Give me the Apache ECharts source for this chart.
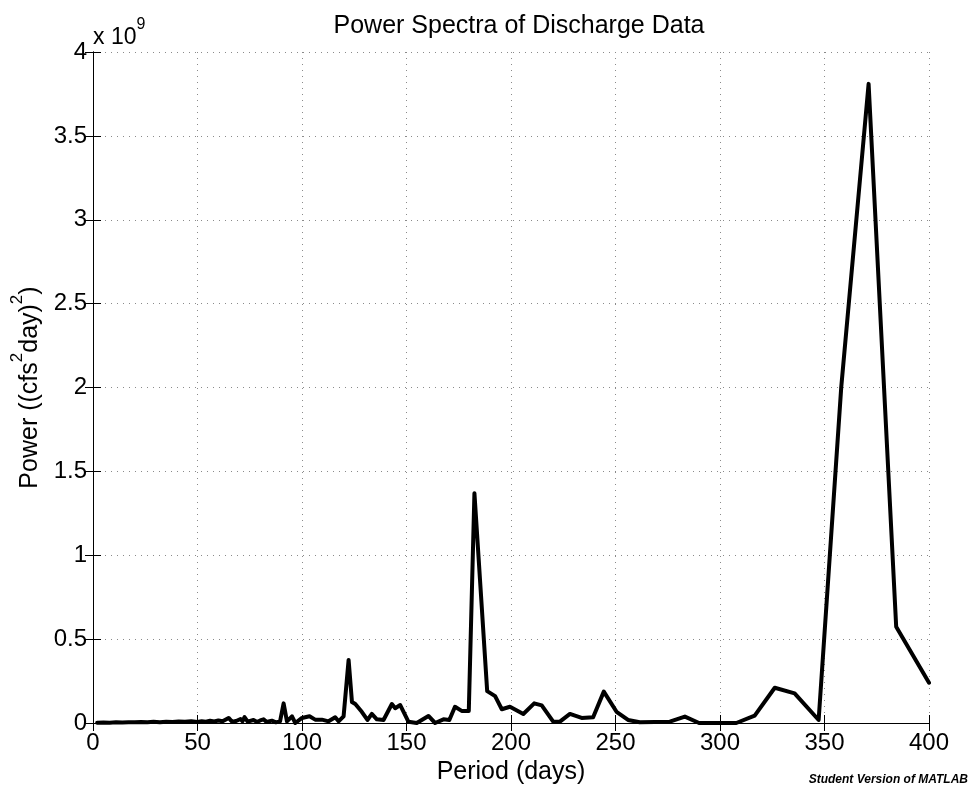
<!DOCTYPE html>
<html>
<head>
<meta charset="utf-8">
<script src="https://cdn.jsdelivr.net/npm/echarts@6/dist/echarts.min.js"></script>
<style>
html,body{margin:0;padding:0;background:#fff;}
#chart{width:971px;height:792px;}
</style>
</head>
<body>
<div id="chart"></div>
<script>
// Period (days)
var periods = [
  2, 5, 8, 11, 14, 17, 20, 23, 26, 29, 32, 35, 38, 41, 44, 47, 50, 52, 54, 56, 58, 60, 62,
  64.9, 66.5, 68.5, 70.6, 71.5, 72.5, 74, 76.8, 78.5, 80, 81.6, 83, 85.6, 87.5, 89.5,
  91.2, 92.8, 95.2, 96.8, 100, 103.6, 106.3, 109.5, 112.7, 115.9, 117.5, 119.9,
  122.3, 123.9, 125.5, 128.6, 131.3, 133.4, 135.8, 139, 143, 144.6, 147, 150.9, 154.9,
  160.5, 163.7, 167.7, 170.5, 173.2, 176.4, 179.8, 182.5, 188.6, 192.4, 195.6, 199.5,
  205.9, 211.1, 214.7, 220.2, 223.4, 228.2, 233.8, 239.3, 244.4, 250.5, 256, 261.6,
  276, 283.2, 290, 307.8, 316.6, 326.2, 335.7, 347.2, 358, 371.1, 384.3, 400
];
// Power, in units of 1e9 (cfs^2 day)^2
var power = [
  0.002, 0.003, 0.002, 0.004, 0.003, 0.005, 0.004, 0.006, 0.005, 0.007, 0.005, 0.008, 0.006, 0.009, 0.007, 0.010, 0.006, 0.011, 0.008, 0.013, 0.009, 0.015, 0.010,
  0.030, 0.008, 0.012, 0.024, 0.010, 0.035, 0.008, 0.018, 0.006, 0.015, 0.022, 0.006, 0.014, 0.004, 0.010,
  0.117, 0.010, 0.040, 0.000, 0.030, 0.040, 0.020, 0.020, 0.010, 0.034, 0.010, 0.040,
  0.376, 0.125, 0.113, 0.067, 0.018, 0.054, 0.022, 0.018, 0.113, 0.088, 0.107, 0.008, 0.000,
  0.042, 0.000, 0.022, 0.018, 0.097, 0.072, 0.072, 1.370, 0.190, 0.160, 0.082, 0.097,
  0.054, 0.117, 0.105, 0.008, 0.008, 0.054, 0.030, 0.034, 0.187, 0.067, 0.018, 0.004,
  0.008, 0.038, 0.000, 0.000, 0.044, 0.210, 0.177, 0.018, 2.000, 3.810, 0.574, 0.240
];
var xTicks = [0, 50, 100, 150, 200, 250, 300, 350, 400];
var yTicks = [0, 0.5, 1, 1.5, 2, 2.5, 3, 3.5, 4];

var FONT = '"Liberation Sans", Arial, Helvetica, sans-serif';
var chart = echarts.init(document.getElementById('chart'), null, {renderer: 'canvas'});
var seriesData = periods.map(function (p, i) { return [p, power[i]]; });

var splitStyle = {show: true, lineStyle: {color: '#8a8a8a', width: 1, type: [1, 5]}};
var tickStyle = {show: true, inside: true, length: 8, lineStyle: {color: '#000', width: 1}};

chart.setOption({
  animation: false,
  backgroundColor: '#fff',
  textStyle: {fontFamily: FONT},
  title: {
    text: 'Power Spectra of Discharge Data',
    left: 514, top: 9, textAlign: 'center',
    textStyle: {fontFamily: FONT, fontSize: 25, fontWeight: 'normal', color: '#000'}
  },
  grid: {left: 93, top: 52, width: 836, height: 671, containLabel: false},
  xAxis: [{
    type: 'value', min: xTicks[0], max: xTicks[xTicks.length - 1], interval: 50,
    position: 'bottom',
    name: 'Period (days)', nameLocation: 'middle', nameGap: 33,
    nameTextStyle: {fontFamily: FONT, fontSize: 25, color: '#000'},
    axisLine: {show: true, lineStyle: {color: '#000', width: 1}},
    axisTick: tickStyle,
    axisLabel: {fontFamily: FONT, fontSize: 24, color: '#000', margin: 8},
    splitLine: splitStyle
  }, {
    type: 'value', min: xTicks[0], max: xTicks[xTicks.length - 1], interval: 50,
    position: 'top',
    axisLine: {show: true, lineStyle: {color: '#000', width: 1}},
    axisTick: tickStyle, axisLabel: {show: false}, splitLine: {show: false}
  }],
  yAxis: [{
    type: 'value', min: yTicks[0], max: yTicks[yTicks.length - 1], interval: 0.5,
    position: 'left',
    name: '{a|Power ((cfs}{s|2}{a|day)}{s|2}{a|)}', nameLocation: 'middle', nameGap: 48,
    nameRotate: 90,
    nameTextStyle: {
      fontFamily: FONT, color: '#000',
      rich: {
        a: {fontFamily: FONT, fontSize: 25, color: '#000', lineHeight: 34, verticalAlign: 'bottom'},
        s: {fontFamily: FONT, fontSize: 17, color: '#000', lineHeight: 34, verticalAlign: 'top'}
      }
    },
    axisLine: {show: true, lineStyle: {color: '#000', width: 1}},
    axisTick: tickStyle,
    axisLabel: {fontFamily: FONT, fontSize: 24, color: '#000', margin: 6},
    splitLine: splitStyle
  }, {
    type: 'value', min: yTicks[0], max: yTicks[yTicks.length - 1], interval: 0.5,
    position: 'right',
    axisLine: {show: true, lineStyle: {color: '#000', width: 1}},
    axisTick: tickStyle, axisLabel: {show: false}, splitLine: {show: false}
  }],
  graphic: [{
    type: 'text', left: 93, top: 17,
    style: {
      text: '{a|x 10}{s|9}',
      rich: {
        a: {fontFamily: FONT, fontSize: 23, fill: '#000', lineHeight: 32, verticalAlign: 'bottom'},
        s: {fontFamily: FONT, fontSize: 16, fill: '#000', lineHeight: 32, verticalAlign: 'top'}
      }
    }
  }, {
    type: 'text', right: 3, top: 774,
    style: {
      text: 'Student Version of MATLAB',
      fontFamily: FONT, fontSize: 12, fontWeight: 'bold', fontStyle: 'italic', fill: '#000'
    }
  }],
  series: [{
    type: 'line', xAxisIndex: 0, yAxisIndex: 0,
    data: seriesData, showSymbol: false, symbol: 'none',
    lineStyle: {color: '#000', width: 4, join: 'round', cap: 'round'},
    clip: true
  }]
});
</script>
</body>
</html>
